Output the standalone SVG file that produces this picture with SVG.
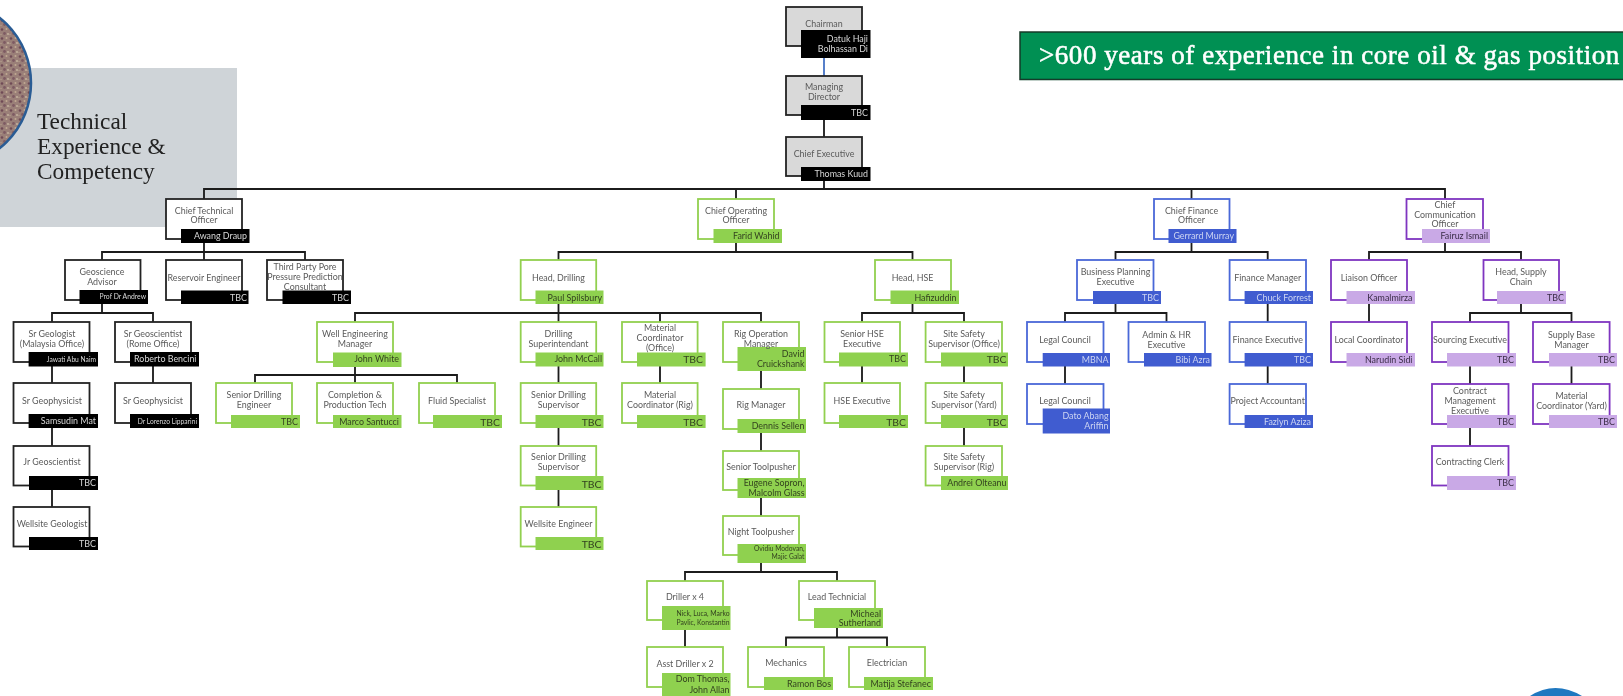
<svg xmlns="http://www.w3.org/2000/svg" width="1623" height="696" viewBox="0 0 1623 696">
<style>
text{font-family:Lato,"Open Sans","Liberation Sans",sans-serif}
.t{font-size:8.9px;fill:#5a5a5a;text-anchor:middle}
.n{font-size:8.9px;text-anchor:end}
.s6{font-size:6.7px}.s65{font-size:6.8px}.s7{font-size:7.2px}.s11{font-size:11px}.s10{font-size:10.4px}
.bk .b{fill:#fff;stroke:#222}.bk .c{fill:#000}.bk .n{fill:#d8d8d8}
.gy .b{fill:#d9d9d9;stroke:#222}.gy .c{fill:#000}.gy .n{fill:#d8d8d8}
.gr .b{fill:#fff;stroke:#92d050}.gr .c{fill:#8fd14f}.gr .n{fill:#33421f}
.bl .b{fill:#fff;stroke:#4a68d8}.bl .c{fill:#3f5bd0}.bl .n{fill:#cdd5f2}
.pu .b{fill:#fff;stroke:#7f35c0}.pu .c{fill:#c9a9e6}.pu .n{fill:#3a2c47}
.b{stroke-width:1.8}
#connectors path{fill:none;stroke:#1a1a1a;stroke-width:1.8}
.sf{font-family:"Liberation Serif",serif}
g[id]{filter:url(#soft)}
</style>
<defs>
<filter id="soft" x="-5%" y="-5%" width="110%" height="110%"><feGaussianBlur stdDeviation="0.38"/></filter>
<pattern id="tex" width="9" height="9" patternUnits="userSpaceOnUse">
<rect width="9" height="9" fill="#9a7f78"/>
<circle cx="2" cy="2.500" r="1.300" fill="#6f4a55"/><circle cx="6.500" cy="2" r="1" fill="#c0aa92"/><circle cx="4.500" cy="6.500" r="1.400" fill="#7d5a62"/><circle cx="8" cy="7" r="0.900" fill="#c8b8a2"/><circle cx="1" cy="7.500" r="0.800" fill="#b09a8a"/>
</pattern>
</defs>
<rect id="panel" x="0" y="68" width="237" height="159" fill="#cfd4d8"/>
<circle id="photo" cx="-52.600" cy="83" r="83.600" fill="url(#tex)" stroke="#2a5c94" stroke-width="2.500"/>
<g id="heading" fill="#222">
<text class="sf" x="37" y="129" font-size="23.300">Technical</text>
<text class="sf" x="37" y="154" font-size="23.300">Experience &amp;</text>
<text class="sf" x="37" y="179" font-size="23.300">Competency</text>
</g>
<g id="banner"><rect x="1020" y="32" width="620" height="47.500" fill="#029052" stroke="#173a2a" stroke-width="1.500"/>
<text class="sf" x="1039" y="64" font-size="27" letter-spacing="0.550" stroke="#fff" stroke-width="0.550" fill="#fff">&gt;600 years of experience in core oil &amp; gas position</text></g>
<path id="logo" d="M1530 696Q1555 680 1582 696Z" fill="#1f78c0"/>

<g id="connectors">
<path style="stroke:#4472c4" d="M824 58V76"/>
<path d="M824 120V137M824 181V189M204 199V189H1445V199M736 189V199M1191.500 189V199"/>
<path d="M204 243V260M102 260V252H305V260M102 304V313M52 322V313H153V322M52 366V383M52 428V446M52 490V507M153 366V383"/>
<path d="M736 243V252M558.500 260V252H912.500V260M558.500 304V322M355 322V313H761V322M660 313V322M355 367V375M255 383V375H457V383M355 375V383"/>
<path d="M558.500 366V383M558.500 428V446M558.500 490V507M660 366V383M761 371V389M761 433V451M761 498V516M761 563V572M685 581V572H837V581M685 630V647M837 628V638M786 647V637.500H887V647"/>
<path d="M912.500 304V313M862 322V313H964V322M862 366V383M964 366V383M964 428V446"/>
<path d="M1191.500 243V252M1115.500 260V252H1267.700V260M1115.500 304V313M1065 322V313H1166.500V322M1065 366V384M1267.700 304V322M1267.700 366V384"/>
<path d="M1445 243V252M1369 260V252H1521V260M1369 304V322M1521 304V313M1470 322V313H1571.500V322M1470 366V384M1470 428V446M1571.500 366V384"/>
</g>

<g id="chairman" class="gy"><rect class="b" x="786" y="7" width="76" height="39"/><rect class="c" x="801" y="30" width="69.500" height="28"/><text class="t" x="824" y="26.500">Chairman</text><text class="n" x="868" y="42">Datuk Haji</text><text class="n" x="868" y="52">Bolhassan Di</text></g>
<g id="md" class="gy"><rect class="b" x="786" y="76" width="76" height="39"/><rect class="c" x="801" y="105" width="69.500" height="15"/><text class="t" x="824" y="90">Managing</text><text class="t" x="824" y="100">Director</text><text class="n" x="868" y="115.500">TBC</text></g>
<g id="ce" class="gy"><rect class="b" x="786" y="137" width="76" height="39"/><rect class="c" x="801" y="167" width="69.500" height="14"/><text class="t" x="824" y="156.500">Chief Executive</text><text class="n" x="868" y="176.500">Thomas Kuud</text></g>

<g id="cto" class="bk"><rect class="b" x="166" y="199" width="76" height="40"/><rect class="c" x="181" y="229" width="68.500" height="14"/><text class="t" x="204" y="213.500">Chief Technical</text><text class="t" x="204" y="223.300">Officer</text><text class="n" x="247" y="239">Awang Draup</text></g>
<g id="coo" class="gr"><rect class="b" x="698" y="199" width="76" height="40"/><rect class="c" x="713.500" y="229" width="68.500" height="14"/><text class="t" x="736" y="213.500">Chief Operating</text><text class="t" x="736" y="223.300">Officer</text><text class="n" x="779.500" y="239">Farid Wahid</text></g>
<g id="cfo" class="bl"><rect class="b" x="1154" y="199" width="75.500" height="40"/><rect class="c" x="1168.500" y="229" width="68" height="14"/><text class="t" x="1191.500" y="213.500">Chief Finance</text><text class="t" x="1191.500" y="223.300">Officer</text><text class="n" x="1234" y="239">Gerrard Murray</text></g>
<g id="cco" class="pu"><rect class="b" x="1406.500" y="199" width="76.500" height="40"/><rect class="c" x="1422" y="229" width="68" height="14"/><text class="t" x="1445" y="207.500">Chief</text><text class="t" x="1445" y="217.500">Communication</text><text class="t" x="1445" y="227">Officer</text><text class="n" x="1488" y="239">Fairuz Ismail</text></g>

<g id="geoscience-advisor" class="bk"><rect class="b" x="65" y="260" width="75.500" height="40"/><rect class="c" x="79.500" y="290" width="68.500" height="14"/><text class="t" x="102" y="275">Geoscience</text><text class="t" x="102" y="284.800">Advisor</text><text class="n s65" x="146" y="299">Prof Dr Andrew</text></g>
<g id="reservoir-engineer" class="bk"><rect class="b" x="166" y="260" width="76" height="40"/><rect class="c" x="181" y="290.500" width="67.500" height="13.500"/><text class="t" x="204" y="280.500">Reservoir Engineer</text><text class="n" x="247" y="301">TBC</text></g>
<g id="third-party" class="bk"><rect class="b" x="267" y="260" width="76" height="40"/><rect class="c" x="282.500" y="290.500" width="68.500" height="13.500"/><text class="t" x="305" y="270">Third Party Pore</text><text class="t" x="305" y="280">Pressure Prediction</text><text class="t" x="305" y="289.500">Consultant</text><text class="n" x="349" y="301">TBC</text></g>

<g id="head-drilling" class="gr"><rect class="b" x="520.700" y="260" width="75.500" height="40"/><rect class="c" x="535.500" y="290.500" width="68" height="13.500"/><text class="t" x="558.500" y="280.500">Head, Drilling</text><text class="n" x="602" y="300.500">Paul Spilsbury</text></g>
<g id="head-hse" class="gr"><rect class="b" x="875" y="260" width="76" height="40"/><rect class="c" x="890.500" y="290.500" width="68.500" height="13.500"/><text class="t" x="912.500" y="280.500">Head, HSE</text><text class="n" x="956.500" y="300.500">Hafizuddin</text></g>
<g id="business-planning" class="bl"><rect class="b" x="1077" y="260" width="76.500" height="40"/><rect class="c" x="1093" y="291" width="68" height="13"/><text class="t" x="1115.500" y="275">Business Planning</text><text class="t" x="1115.500" y="284.800">Executive</text><text class="n" x="1159" y="300.500">TBC</text></g>
<g id="finance-manager" class="bl"><rect class="b" x="1229.600" y="260" width="76.400" height="40"/><rect class="c" x="1244.600" y="291" width="68.400" height="13"/><text class="t" x="1267.700" y="280.500">Finance Manager</text><text class="n" x="1311" y="300.500">Chuck Forrest</text></g>
<g id="liaison-officer" class="pu"><rect class="b" x="1331" y="260" width="76" height="40"/><rect class="c" x="1346.500" y="291" width="68.500" height="13"/><text class="t" x="1369" y="280.500">Liaison Officer</text><text class="n" x="1412.500" y="300.500">Kamalmirza</text></g>
<g id="head-supply" class="pu"><rect class="b" x="1483.500" y="260" width="75.500" height="40"/><rect class="c" x="1497" y="291" width="69" height="13"/><text class="t" x="1521" y="275">Head, Supply</text><text class="t" x="1521" y="284.800">Chain</text><text class="n" x="1564" y="300.500">TBC</text></g>

<g id="sr-geologist" class="bk"><rect class="b" x="13.500" y="322" width="76" height="40"/><rect class="c" x="28.600" y="352" width="69.400" height="14.500"/><text class="t" x="52" y="337">Sr Geologist</text><text class="t" x="52" y="347">(Malaysia Office)</text><text class="n s6" x="96" y="361.500">Jawati Abu Naim</text></g>
<g id="sr-geoscientist" class="bk"><rect class="b" x="115" y="322" width="76" height="40"/><rect class="c" x="130" y="352" width="69" height="14.500"/><text class="t" x="153" y="337">Sr Geoscientist</text><text class="t" x="153" y="347">(Rome Office)</text><text class="n" x="196.500" y="361.500">Roberto Bencini</text></g>
<g id="well-engineering" class="gr"><rect class="b" x="317" y="322" width="76" height="40"/><rect class="c" x="333" y="352.500" width="68.500" height="14.500"/><text class="t" x="355" y="337">Well Engineering</text><text class="t" x="355" y="347">Manager</text><text class="n" x="399" y="361.500">John White</text></g>
<g id="drilling-superintendant" class="gr"><rect class="b" x="520.700" y="322" width="75.500" height="40"/><rect class="c" x="535.500" y="352.500" width="68" height="14"/><text class="t" x="558.500" y="337">Drilling</text><text class="t" x="558.500" y="347">Superintendant</text><text class="n" x="602" y="361.500">John McCall</text></g>
<g id="material-office" class="gr"><rect class="b" x="622" y="322" width="75.600" height="40"/><rect class="c" x="637" y="352.500" width="68.600" height="14"/><text class="t" x="660" y="331">Material</text><text class="t" x="660" y="341">Coordinator</text><text class="t" x="660" y="350.500">(Office)</text><text class="n s10" x="703" y="362.800">TBC</text></g>
<g id="rig-operation" class="gr"><rect class="b" x="723" y="322" width="76" height="40"/><rect class="c" x="737.500" y="347" width="68.500" height="24"/><text class="t" x="761" y="337">Rig Operation</text><text class="t" x="761" y="346.500">Manager</text><text class="n" x="804.500" y="357">David</text><text class="n" x="804.500" y="367">Cruickshank</text></g>
<g id="senior-hse" class="gr"><rect class="b" x="824.500" y="322" width="75.500" height="40"/><rect class="c" x="839" y="352.500" width="69" height="14"/><text class="t" x="862" y="337">Senior HSE</text><text class="t" x="862" y="347">Executive</text><text class="n" x="906" y="361.500">TBC</text></g>
<g id="safety-office" class="gr"><rect class="b" x="925.600" y="322" width="76.400" height="40"/><rect class="c" x="941" y="352.500" width="67" height="14"/><text class="t" x="964" y="337">Site Safety</text><text class="t" x="964" y="347">Supervisor (Office)</text><text class="n s10" x="1006.500" y="362.800">TBC</text></g>
<g id="legal-council" class="bl"><rect class="b" x="1027" y="322" width="76.500" height="40"/><rect class="c" x="1042.700" y="353" width="67.300" height="13.500"/><text class="t" x="1065" y="342.500">Legal Council</text><text class="n" x="1108.500" y="362.500">MBNA</text></g>
<g id="admin-hr" class="bl"><rect class="b" x="1128.500" y="322" width="76.500" height="40"/><rect class="c" x="1144" y="353" width="67.500" height="13.500"/><text class="t" x="1166.500" y="337.500">Admin &amp; HR</text><text class="t" x="1166.500" y="347.500">Executive</text><text class="n" x="1210" y="362.500">Bibi Azra</text></g>
<g id="finance-executive" class="bl"><rect class="b" x="1229.600" y="322" width="76.400" height="40"/><rect class="c" x="1244.600" y="353" width="68.400" height="13.500"/><text class="t" x="1267.700" y="342.500">Finance Executive</text><text class="n" x="1311" y="362.500">TBC</text></g>
<g id="local-coordinator" class="pu"><rect class="b" x="1331" y="322" width="76" height="40"/><rect class="c" x="1346.500" y="353" width="68.500" height="13.500"/><text class="t" x="1369" y="342.500">Local Coordinator</text><text class="n" x="1412.500" y="362.500">Narudin Sidi</text></g>
<g id="sourcing" class="pu"><rect class="b" x="1432" y="322" width="76.500" height="40"/><rect class="c" x="1447" y="353" width="69" height="13.500"/><text class="t" x="1470" y="342.500">Sourcing Executive</text><text class="n" x="1514" y="362.500">TBC</text></g>
<g id="supply-base" class="pu"><rect class="b" x="1533" y="322" width="76.600" height="40"/><rect class="c" x="1549" y="353" width="68" height="13.500"/><text class="t" x="1571.500" y="337.500">Supply Base</text><text class="t" x="1571.500" y="347.500">Manager</text><text class="n" x="1615" y="362.500">TBC</text></g>

<g id="sr-geophysicist-1" class="bk"><rect class="b" x="13.500" y="383" width="76" height="40"/><rect class="c" x="28.600" y="414" width="69.400" height="14"/><text class="t" x="52" y="404">Sr Geophysicist</text><text class="n" x="96" y="424">Samsudin Mat</text></g>
<g id="sr-geophysicist-2" class="bk"><rect class="b" x="115" y="383" width="76" height="40"/><rect class="c" x="130" y="414" width="69" height="14"/><text class="t" x="153" y="404">Sr Geophysicist</text><text class="n s6" x="197" y="423.500">Dr Lorenzo Lipparini</text></g>
<g id="senior-drilling-engineer" class="gr"><rect class="b" x="216" y="383" width="76" height="40"/><rect class="c" x="231" y="415" width="69" height="13"/><text class="t" x="254" y="398">Senior Drilling</text><text class="t" x="254" y="408">Engineer</text><text class="n" x="298" y="424.500">TBC</text></g>
<g id="completion" class="gr"><rect class="b" x="317" y="383" width="76" height="40"/><rect class="c" x="333" y="415" width="68.500" height="13"/><text class="t" x="355" y="398">Completion &amp;</text><text class="t" x="355" y="408">Production Tech</text><text class="n" x="399" y="424.500">Marco Santucci</text></g>
<g id="fluid" class="gr"><rect class="b" x="419" y="383" width="76" height="40"/><rect class="c" x="433" y="415" width="69" height="13"/><text class="t" x="457" y="404">Fluid Specialist</text><text class="n s10" x="500" y="425.500">TBC</text></g>
<g id="senior-drilling-sup-1" class="gr"><rect class="b" x="520.700" y="383" width="75.500" height="40"/><rect class="c" x="535.500" y="415" width="68" height="13"/><text class="t" x="558.500" y="398">Senior Drilling</text><text class="t" x="558.500" y="408">Supervisor</text><text class="n s10" x="601.500" y="425.500">TBC</text></g>
<g id="material-rig" class="gr"><rect class="b" x="622" y="383" width="75.600" height="40"/><rect class="c" x="637" y="415" width="68.600" height="13"/><text class="t" x="660" y="398">Material</text><text class="t" x="660" y="408">Coordinator (Rig)</text><text class="n s10" x="703" y="425.500">TBC</text></g>
<g id="rig-manager" class="gr"><rect class="b" x="723" y="389" width="76" height="40"/><rect class="c" x="737.500" y="419" width="68.500" height="14"/><text class="t" x="761" y="408">Rig Manager</text><text class="n" x="804.500" y="429">Dennis Sellen</text></g>
<g id="hse-executive" class="gr"><rect class="b" x="824.500" y="383" width="75.500" height="40"/><rect class="c" x="839" y="415" width="69" height="13"/><text class="t" x="862" y="404">HSE Executive</text><text class="n s10" x="906" y="425.500">TBC</text></g>
<g id="safety-yard" class="gr"><rect class="b" x="925.600" y="383" width="76.400" height="40"/><rect class="c" x="941" y="415" width="67" height="13"/><text class="t" x="964" y="398">Site Safety</text><text class="t" x="964" y="408">Supervisor (Yard)</text><text class="n s10" x="1006.500" y="425.500">TBC</text></g>
<g id="legal-council-2" class="bl"><rect class="b" x="1027" y="384" width="76.500" height="40"/><rect class="c" x="1042.700" y="408.500" width="67.300" height="25"/><text class="t" x="1065" y="404">Legal Council</text><text class="n" x="1108.500" y="419">Dato Abang</text><text class="n" x="1108.500" y="429">Ariffin</text></g>
<g id="project-accountant" class="bl"><rect class="b" x="1229.600" y="384" width="76.400" height="40"/><rect class="c" x="1244.600" y="415" width="68.400" height="13"/><text class="t" x="1267.700" y="404">Project Accountant</text><text class="n" x="1311" y="424.500">Fazlyn Aziza</text></g>
<g id="contract-management" class="pu"><rect class="b" x="1432" y="384" width="76.500" height="40"/><rect class="c" x="1447" y="415" width="69" height="13"/><text class="t" x="1470" y="394">Contract</text><text class="t" x="1470" y="404">Management</text><text class="t" x="1470" y="413.500">Executive</text><text class="n" x="1514" y="424.500">TBC</text></g>
<g id="material-yard" class="pu"><rect class="b" x="1533" y="384" width="76.600" height="40"/><rect class="c" x="1549" y="415" width="68" height="13"/><text class="t" x="1571.500" y="398.500">Material</text><text class="t" x="1571.500" y="408.500">Coordinator (Yard)</text><text class="n" x="1615" y="424.500">TBC</text></g>

<g id="jr-geoscientist" class="bk"><rect class="b" x="13.500" y="446" width="76" height="39.500"/><rect class="c" x="29" y="476" width="69" height="14"/><text class="t" x="52" y="465">Jr Geoscientist</text><text class="n" x="96" y="485.500">TBC</text></g>
<g id="senior-drilling-sup-2" class="gr"><rect class="b" x="520.700" y="446" width="75.500" height="39.500"/><rect class="c" x="535.500" y="476" width="68" height="14"/><text class="t" x="558.500" y="460">Senior Drilling</text><text class="t" x="558.500" y="470">Supervisor</text><text class="n s10" x="601.500" y="487.500">TBC</text></g>
<g id="senior-toolpusher" class="gr"><rect class="b" x="723" y="451" width="76" height="39"/><rect class="c" x="737.500" y="478" width="68.500" height="20"/><text class="t" x="761" y="470">Senior Toolpusher</text><text class="n" x="804.500" y="486">Eugene Sopron,</text><text class="n" x="804.500" y="495.500">Malcolm Glass</text></g>
<g id="safety-rig" class="gr"><rect class="b" x="925.600" y="446" width="76.400" height="39.500"/><rect class="c" x="941" y="476" width="67" height="14"/><text class="t" x="964" y="460">Site Safety</text><text class="t" x="964" y="470">Supervisor (Rig)</text><text class="n" x="1006.500" y="485.500">Andrei Olteanu</text></g>
<g id="contracting-clerk" class="pu"><rect class="b" x="1432" y="446" width="76.500" height="39.500"/><rect class="c" x="1447" y="476" width="69" height="14"/><text class="t" x="1470" y="465">Contracting Clerk</text><text class="n" x="1514" y="485.500">TBC</text></g>

<g id="wellsite-geologist" class="bk"><rect class="b" x="13.500" y="507" width="76" height="39.500"/><rect class="c" x="29" y="537" width="69" height="13"/><text class="t" x="52" y="527">Wellsite Geologist</text><text class="n" x="96" y="546.500">TBC</text></g>
<g id="wellsite-engineer" class="gr"><rect class="b" x="520.700" y="507" width="75.500" height="39.500"/><rect class="c" x="535.500" y="537" width="68" height="13"/><text class="t" x="558.500" y="527">Wellsite Engineer</text><text class="n s10" x="601.500" y="547.800">TBC</text></g>
<g id="night-toolpusher" class="gr"><rect class="b" x="723" y="516" width="76" height="39"/><rect class="c" x="737.500" y="544" width="68.500" height="19"/><text class="t" x="761" y="535">Night Toolpusher</text><text class="n s6" x="804.500" y="550.500">Ovidiu Modovan,</text><text class="n s6" x="804.500" y="559">Majic Galat</text></g>
<g id="driller" class="gr"><rect class="b" x="647" y="581" width="76" height="39"/><rect class="c" x="662" y="606" width="68.500" height="24"/><text class="t" x="685" y="599.500">Driller x 4</text><text class="n s65" x="729.500" y="616">Nick, Luca, Marko</text><text class="n s65" x="729.500" y="624.500">Pavlic, Konstantin</text></g>
<g id="lead-technicial" class="gr"><rect class="b" x="799" y="581" width="76" height="39"/><rect class="c" x="814" y="608" width="69" height="20"/><text class="t" x="837" y="599.500">Lead Technicial</text><text class="n" x="881" y="616.500">Micheal</text><text class="n" x="881" y="626">Sutherland</text></g>
<g id="asst-driller" class="gr"><rect class="b" x="647" y="647" width="76" height="40"/><rect class="c" x="662" y="673" width="68.500" height="23"/><text class="t" x="685" y="667">Asst Driller x 2</text><text class="n" x="729.500" y="682">Dom Thomas,</text><text class="n" x="729.500" y="692.500">John Allan</text></g>
<g id="mechanics" class="gr"><rect class="b" x="748" y="647" width="76" height="40"/><rect class="c" x="764" y="677" width="69" height="13"/><text class="t" x="786" y="665.500">Mechanics</text><text class="n" x="831" y="686.500">Ramon Bos</text></g>
<g id="electrician" class="gr"><rect class="b" x="849" y="647" width="76" height="40"/><rect class="c" x="864" y="677" width="69" height="13"/><text class="t" x="887" y="665.500">Electrician</text><text class="n" x="931" y="686.500">Matija Stefanec</text></g>
</svg>
